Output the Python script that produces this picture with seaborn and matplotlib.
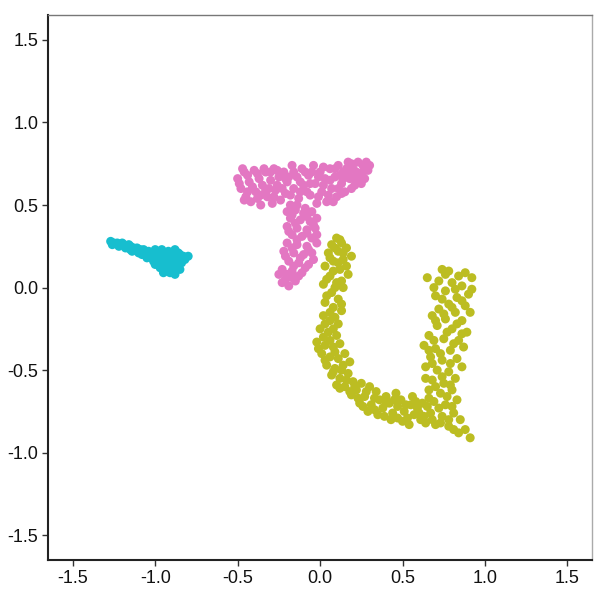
import numpy as np
import pandas as pd
import matplotlib
matplotlib.use('Agg')
import matplotlib.pyplot as plt
import seaborn as sns

# cluster points (data units)
cyan_x = [-1.27, -1.25, -1.23, -1.21, -1.19, -1.17, -1.15, -1.13, -1.11, -1.09, -1.07, -1.22, -1.18,
          -1.14, -1.10, -1.06, -1.04, -1.02, -1.00, -1.02, -0.99, -0.98, -0.96, -0.95, -0.94, -0.92,
          -0.93, -0.91, -0.90, -0.88, -0.89, -0.87, -0.86, -0.95, -0.91, -0.88, -0.84, -0.83, -0.80,
          -0.85, -0.97, -1.00, -1.05, -1.12, -1.16,
          -1.26, -1.20, -1.15, -1.08, -1.08, -1.03, -1.01, -0.97, -0.96, -0.93, -0.92, -0.90, -0.87,
          -0.85, -0.82, -0.89, -0.94, -0.98]
cyan_y = [0.28, 0.27, 0.27, 0.26, 0.26, 0.25, 0.25, 0.24, 0.24, 0.23, 0.23, 0.25, 0.24,
          0.22, 0.21, 0.20, 0.22, 0.21, 0.23, 0.18, 0.17, 0.20, 0.23, 0.15, 0.19, 0.22,
          0.12, 0.16, 0.20, 0.23, 0.13, 0.18, 0.21, 0.09, 0.09, 0.08, 0.15, 0.19, 0.19,
          0.11, 0.12, 0.14, 0.18, 0.23, 0.26,
          0.26, 0.27, 0.23, 0.22, 0.20, 0.19, 0.16, 0.22, 0.17, 0.21, 0.14, 0.11, 0.15,
          0.20, 0.17, 0.10, 0.10, 0.14]

pink_x = [-0.50, -0.48, -0.46, -0.45, -0.43, -0.42, -0.40, -0.39, -0.37, -0.36, -0.35, -0.33, -0.32,
          -0.30, -0.29, -0.28, -0.27, -0.25, -0.24, -0.47, -0.44, -0.38, -0.34, -0.31, -0.26,
          -0.22, -0.21, -0.20, -0.18, -0.17, -0.16, -0.14, -0.13, -0.11, -0.10, -0.09, -0.07, -0.06,
          -0.04, -0.03, -0.02, 0.00, 0.01, 0.03, 0.04, -0.19, -0.12, -0.05, 0.02,
          0.06, 0.07, 0.09, 0.10, 0.11, 0.13, 0.14, 0.15, 0.17, 0.18, 0.20, 0.21, 0.23, 0.24,
          0.26, 0.27, 0.28, 0.29, 0.08, 0.12, 0.19, 0.16, 0.22, 0.25,
          -0.49, -0.46, -0.44, -0.41, -0.38, -0.36, -0.33, -0.30, -0.28, -0.26, -0.23, -0.21,
          -0.18, -0.16, -0.14, -0.12, -0.09, -0.08, -0.06, -0.01, -0.01, 0.02, 0.05, 0.06,
          0.09, 0.11, 0.14, 0.17, 0.19, 0.21, 0.23, 0.26, 0.30, 0.13,
          -0.20, -0.15, -0.10, -0.05, -0.18, -0.12, -0.06, -0.02, -0.20, -0.14, -0.08, -0.03,
          -0.17, -0.11, -0.05, -0.20, -0.14, -0.08, -0.02, -0.22, -0.16, -0.10, -0.05, -0.19,
          -0.13, -0.07, -0.23, -0.17, -0.11, -0.21, -0.15, -0.19, -0.25, -0.09,
          -0.17, -0.08, -0.15, -0.04, -0.19, -0.08, -0.02, -0.14, -0.17, -0.07, -0.12, -0.21,
          -0.04, -0.16, -0.20, -0.13, -0.23, -0.17]
pink_y = [0.66, 0.60, 0.70, 0.55, 0.64, 0.52, 0.71, 0.58, 0.66, 0.50, 0.62, 0.70, 0.55,
          0.65, 0.51, 0.72, 0.59, 0.67, 0.53, 0.72, 0.58, 0.54, 0.72, 0.60, 0.62,
          0.70, 0.57, 0.64, 0.50, 0.74, 0.60, 0.67, 0.54, 0.72, 0.62, 0.48, 0.68, 0.56,
          0.74, 0.63, 0.51, 0.70, 0.58, 0.66, 0.52, 0.67, 0.58, 0.70, 0.62,
          0.72, 0.60, 0.67, 0.55, 0.74, 0.63, 0.70, 0.58, 0.76, 0.66, 0.72, 0.62, 0.76, 0.68,
          0.74, 0.66, 0.76, 0.71, 0.52, 0.68, 0.60, 0.72, 0.70, 0.63,
          0.63, 0.53, 0.68, 0.61, 0.69, 0.56, 0.59, 0.70, 0.55, 0.71, 0.60, 0.66,
          0.56, 0.70, 0.50, 0.64, 0.70, 0.58, 0.63, 0.67, 0.55, 0.73, 0.56, 0.65,
          0.72, 0.60, 0.66, 0.70, 0.75, 0.67, 0.65, 0.70, 0.74, 0.57,
          0.46, 0.47, 0.45, 0.46, 0.42, 0.41, 0.40, 0.42, 0.37, 0.36, 0.35, 0.36,
          0.32, 0.31, 0.30, 0.27, 0.26, 0.25, 0.27, 0.22, 0.21, 0.20, 0.21, 0.16,
          0.15, 0.14, 0.11, 0.10, 0.09, 0.05, 0.04, 0.01, 0.08, 0.12,
          0.44, 0.43, 0.39, 0.38, 0.34, 0.33, 0.32, 0.29, 0.24, 0.23, 0.18, 0.19,
          0.17, 0.13, 0.08, 0.07, 0.03, 0.06]

olive_x = [0.10, 0.13, 0.07, 0.16, 0.11, 0.05, 0.19, 0.14, 0.08, 0.03, 0.12, 0.17, 0.06, 0.10,
           0.02, 0.14, 0.07, 0.11, 0.03, 0.08, 0.13, 0.02, 0.06, 0.11, 0.00, 0.05, 0.10, -0.02,
           0.03, 0.08, 0.12, 0.01, 0.06, 0.11, 0.15, 0.04, 0.09, 0.14, 0.18, 0.07, 0.12, 0.17,
           0.10, 0.15, 0.20,
           0.12, 0.09, 0.14, 0.06, 0.11, 0.16, 0.08, 0.04, 0.13, 0.09, 0.04, 0.13, 0.06, 0.09,
           0.03, 0.08, 0.02, 0.06, -0.01, 0.09, 0.03, 0.13, 0.08, 0.16, 0.21, 0.12, 0.18,
           0.22, 0.25, 0.19, 0.27, 0.30, 0.24, 0.31, 0.34, 0.36, 0.29, 0.38, 0.40, 0.35, 0.42,
           0.44, 0.46, 0.47, 0.49, 0.43, 0.51, 0.53, 0.55, 0.57, 0.50, 0.59, 0.61, 0.56, 0.62,
           0.23, 0.28, 0.26, 0.33, 0.33, 0.39, 0.40, 0.45, 0.47, 0.52, 0.54, 0.58, 0.60, 0.65,
           0.64,
           0.74, 0.78, 0.88, 0.92, 0.65, 0.72, 0.80, 0.86, 0.76, 0.90, 0.70, 0.83, 0.78, 0.88,
           0.72, 0.82, 0.68, 0.76, 0.86, 0.71, 0.80, 0.89, 0.66, 0.75, 0.84, 0.63, 0.70, 0.79,
           0.87, 0.67, 0.74, 0.83, 0.64, 0.71, 0.78, 0.68, 0.75, 0.82, 0.66, 0.73, 0.80, 0.69,
           0.76, 0.83, 0.67, 0.74, 0.81, 0.70, 0.78, 0.85, 0.84, 0.91, 0.63,
           0.76, 0.84, 0.69, 0.82, 0.92, 0.74, 0.86, 0.80, 0.91, 0.75, 0.70, 0.83, 0.77, 0.86,
           0.69, 0.81, 0.73, 0.66, 0.79, 0.68, 0.86, 0.74, 0.64, 0.79, 0.70, 0.77, 0.66, 0.72,
           0.80, 0.78, 0.73, 0.81, 0.88, 0.68]
olive_y = [0.30, 0.27, 0.26, 0.24, 0.22, 0.21, 0.19, 0.17, 0.16, 0.13, 0.11, 0.08, 0.07, 0.03,
           0.02, 0.00, -0.03, -0.07, -0.09, -0.12, -0.14, -0.17, -0.20, -0.22, -0.25, -0.27, -0.29, -0.33,
           -0.35, -0.36, -0.34, -0.40, -0.42, -0.43, -0.40, -0.47, -0.49, -0.47, -0.45, -0.53, -0.55, -0.52,
           -0.59, -0.60, -0.57,
           0.29, 0.24, 0.21, 0.18, 0.15, 0.13, 0.10, 0.05, 0.04, 0.00, -0.05, -0.10, -0.15, -0.18,
           -0.22, -0.25, -0.30, -0.32, -0.37, -0.39, -0.44, -0.50, -0.51, -0.56, -0.60, -0.61, -0.63,
           -0.62, -0.58, -0.65, -0.66, -0.60, -0.70, -0.71, -0.63, -0.68, -0.75, -0.73, -0.66, -0.77, -0.70,
           -0.76, -0.64, -0.72, -0.68, -0.80, -0.75, -0.79, -0.71, -0.77, -0.81, -0.73, -0.80, -0.66, -0.70,
           -0.67, -0.63, -0.72, -0.67, -0.74, -0.78, -0.70, -0.68, -0.79, -0.71, -0.83, -0.69, -0.76, -0.72,
           -0.82,
           0.11, 0.10, 0.09, 0.06, 0.06, 0.04, 0.03, 0.01, -0.02, -0.04, -0.05, -0.06, -0.10, -0.11,
           -0.13, -0.15, -0.17, -0.19, -0.20, -0.23, -0.25, -0.27, -0.29, -0.31, -0.32, -0.35, -0.37, -0.38,
           -0.36, -0.42, -0.44, -0.43, -0.48, -0.50, -0.51, -0.56, -0.58, -0.55, -0.62, -0.64, -0.62, -0.69,
           -0.71, -0.68, -0.76, -0.78, -0.76, -0.83, -0.84, -0.80, -0.88, -0.91, -0.78,
           0.08, 0.07, 0.00, -0.01, -0.01, -0.07, -0.08, -0.12, -0.15, -0.16, -0.20, -0.22, -0.27, -0.28,
           -0.32, -0.34, -0.40, -0.38, -0.46, -0.46, -0.48, -0.54, -0.55, -0.59, -0.60, -0.66, -0.67, -0.73,
           -0.72, -0.80, -0.82, -0.86, -0.86, -0.80]

ticks = [-1.5, -1.0, -0.5, 0.0, 0.5, 1.0, 1.5]
tick_labels = ['-1.5', '-1.0', '-0.5', '0.0', '0.5', '1.0', '1.5']

df = pd.concat([
    pd.DataFrame({'x': cyan_x, 'y': cyan_y, 'group': 'a'}),
    pd.DataFrame({'x': pink_x, 'y': pink_y, 'group': 'b'}),
    pd.DataFrame({'x': olive_x, 'y': olive_y, 'group': 'c'}),
], ignore_index=True)

sns.set_style('white')
plt.rcParams['font.family'] = ['Liberation Sans', 'DejaVu Sans']

fig = plt.figure(figsize=(6, 6), dpi=100)
ax = fig.add_axes([0.08, 0.0667, 0.907, 0.908])

sns.scatterplot(data=df, x='x', y='y', hue='group',
                palette={'a': '#17BECF', 'b': '#E377C2', 'c': '#BCBD22'},
                s=42, linewidth=0, alpha=1, legend=False, ax=ax)

ax.set_xlim(-1.65, 1.65)
ax.set_ylim(-1.65, 1.65)
ax.set_xticks(ticks)
ax.set_xticklabels(tick_labels)
ax.set_yticks(ticks)
ax.set_yticklabels(tick_labels)
ax.set_xlabel('')
ax.set_ylabel('')
ax.tick_params(axis='both', which='both', direction='out', length=4, width=1,
               color='#333333', labelsize=13, labelcolor='#111111', pad=3,
               bottom=True, left=True)

ax.spines['left'].set_color('#222222')
ax.spines['left'].set_linewidth(1.5)
ax.spines['bottom'].set_color('#222222')
ax.spines['bottom'].set_linewidth(1.5)
ax.spines['top'].set_color('#777777')
ax.spines['top'].set_linewidth(1)
ax.spines['right'].set_color('#aaaaaa')
ax.spines['right'].set_linewidth(1)

fig.savefig('out.png', dpi=100)
